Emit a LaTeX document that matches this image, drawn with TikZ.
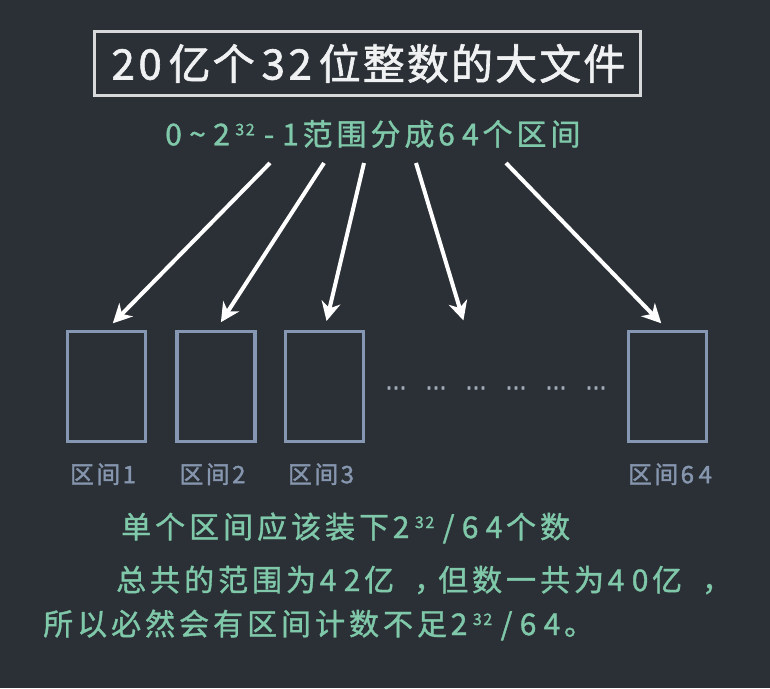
\documentclass[tikz,border=0pt]{standalone}
\usepackage{fontspec}
\usetikzlibrary{arrows.meta,positioning}

\newfontfamily\titlefont[LetterSpace=5,FakeBold=1.5]{Noto Sans CJK SC}
\newfontfamily\zhfont[LetterSpace=13.3,FakeBold=1.2]{Noto Sans CJK SC}
\newfontfamily\lblfont[LetterSpace=10,FakeBold=1.5]{Noto Sans CJK SC}
\newfontfamily\dotfont[FakeBold=3]{DejaVu Sans}

\definecolor{bgcolor}{HTML}{2B3036}
\definecolor{titleline}{HTML}{D6D8DA}
\definecolor{titletext}{HTML}{F0F1F2}
\definecolor{mint}{HTML}{7FC8A9}
\definecolor{slate}{HTML}{8597B2}
\definecolor{slatetext}{HTML}{8696AE}
\definecolor{dotgray}{HTML}{A2AAB6}

% every digit gets a cell of its own, wider than the glyph
\newcommand{\cells}[2]{\def\cellw{#1}\cellloop#2\relax}
\def\cellloop#1{\ifx\relax#1\else\makebox[\cellw]{#1}\expandafter\cellloop\fi}
\newcommand{\tnum}[1]{\hspace{5pt}\cells{27pt}{#1}\hspace{5pt}}
\newcommand{\nm}[1]{\cells{24pt}{#1}}
\newcommand{\lnum}[1]{\cells{18pt}{#1}}
\newcommand{\sign}[1]{\makebox[19pt]{#1}}
% small raised exponent
\newcommand{\pow}[1]{\hspace{1pt}\raisebox{10pt}{\fontsize{16}{16}\selectfont\cells{10.5pt}{#1}}\hspace{4pt}}
% full width comma with room round it
\newcommand{\cm}{\makebox[44pt][l]{\hspace{20pt}，}}

\tikzset{
  titlebox/.style={draw=titleline, line width=2.5pt, text=titletext, minimum width=546pt, minimum height=64pt, inner sep=0pt, font=\titlefont\fontsize{42}{50}\selectfont},
  greentext/.style={text=mint, inner sep=0pt, font=\zhfont\fontsize{30}{36}\selectfont},
  bucket/.style={draw=slate, line width=3.5pt, minimum width=78pt, minimum height=110pt, inner sep=0pt},
  bucketlabel/.style={text=slatetext, inner sep=0pt, anchor=west, font=\lblfont\fontsize{24}{28}\selectfont},
  dotgroup/.style={text=dotgray, inner sep=0pt, font=\dotfont\fontsize{21}{26}\selectfont},
  bigarrow/.style={draw=white, line width=4pt, -{Stealth[length=19pt,width=19pt,inset=6pt]}, shorten >=9pt}
}

\begin{document}
\begin{tikzpicture}[x=1pt,y=-1pt]

% Background
\fill[bgcolor] (0,0) rectangle (770,688);

% Title and range
\node[titlebox] (title) at (367.5,63.5) {\hspace{-5pt}\tnum{20}亿个\tnum{32}位整数的大文件};
\node[greentext] (range) at (371,134) {\nm{0\textasciitilde2}\pow{32}\sign{-}\nm{1}范围分成\nm{64}个区间};

% The buckets
\def\boxy{386.5} % vertical centre of the buckets
\node[bucket] (box1) at (106.5,\boxy) {};
\node[bucket] (box2) at (216,\boxy) {};
\node[bucket] (box3) at (324.5,\boxy) {};
\node[bucket] (box64) at (667.5,\boxy) {};

% Bucket labels
\node[bucketlabel] (lbl1) at ([xshift=4pt,yshift=-31pt]box1.south west) {区间\lnum{1}};
\node[bucketlabel] (lbl2) at ([xshift=4pt,yshift=-31pt]box2.south west) {区间\lnum{2}};
\node[bucketlabel] (lbl3) at ([xshift=4pt,yshift=-31pt]box3.south west) {区间\lnum{3}};
\node[bucketlabel] (lbl64) at ([xshift=1pt,yshift=-31pt]box64.south west) {区间\lnum{64}};

% Dots between bucket 3 and bucket 64
\foreach \i in {0,...,5}
  \node[dotgroup] (dots\i) at (396+40*\i,388) {…};

% Arrows out of the range
\coordinate (from1) at (270,163);
\coordinate (from2) at (324,163);
\coordinate (from3) at (364,163);
\coordinate (from4) at (416,163);
\coordinate (from5) at (506,163);
\coordinate (gap) at (466,329);
\draw[bigarrow] (from1) -- (box1.north);
\draw[bigarrow] (from2) -- (box2.north);
\draw[bigarrow] (from3) -- (box3.north);
\draw[bigarrow] (from4) -- (gap);
\draw[bigarrow] (from5) -- (box64.north);

% Notes below
\node[greentext, anchor=west] (note1) at (121,528) {单个区间应该装下\nm{2}\pow{32}\sign{/}\nm{64}个数};
\node[greentext, anchor=west] (note2) at (116,580) {总共的范围为\nm{42}亿\cm 但数一共为\nm{40}亿\cm};
\node[greentext, anchor=west] (note3) at (43,625) {所以必然会有区间计数不足\nm{2}\pow{32}\sign{/}\nm{64}。};

\end{tikzpicture}
\end{document}
